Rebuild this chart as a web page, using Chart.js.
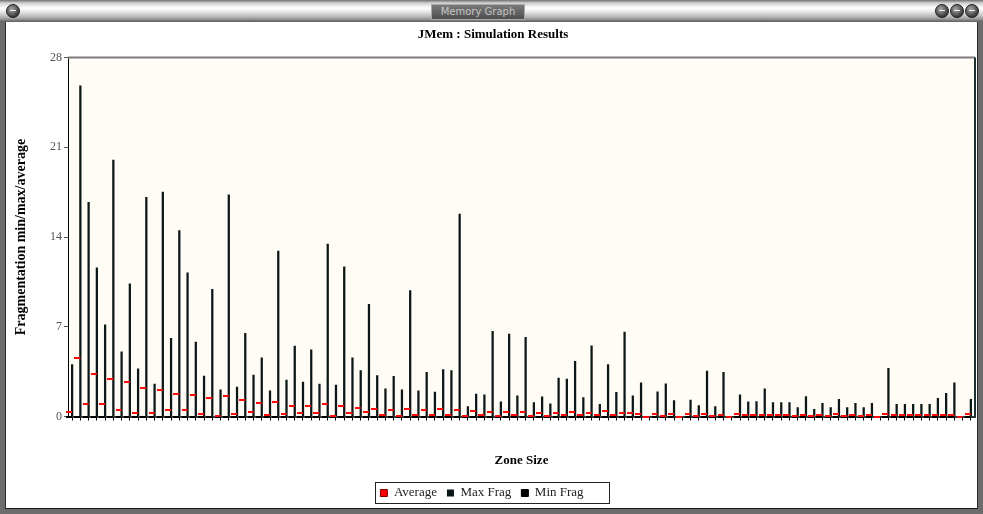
<!DOCTYPE html>
<html>
<head>
<meta charset="utf-8">
<script src="https://cdn.jsdelivr.net/npm/chart.js@4.4.1/dist/chart.umd.min.js"></script>
<style>
  body { margin: 0; width: 983px; height: 514px; overflow: hidden; position: relative; background: #6c6c6c; }
  #titlebar { position: absolute; left: 0; top: 0; width: 983px; height: 22px;
    background: linear-gradient(to bottom, #707070 0, #cfcfcf 3px, #ffffff 8px, #e6e6e6 12px, #a9a9a9 18px, #5e5e5e 22px); }
  #caption { position: absolute; left: 431px; top: 4px; width: 92px; height: 14px;
    background: linear-gradient(to bottom, #7a7a7a, #4e4e4e); border: 1px solid #a8a8a8;
    color: #c4c4c4; font: 10px "DejaVu Sans", sans-serif; line-height: 14px; text-align: center; }
  .btn { position: absolute; top: 4px; width: 12px; height: 12px; border-radius: 50%;
    background: radial-gradient(circle at 40% 35%, #a8a8a8, #343434 75%); border: 1px solid #1e1e1e; }
  .btn i { position: absolute; left: 3px; top: 5px; width: 6px; height: 1px; background: #f2f2f2; }
  #content { position: absolute; left: 5px; top: 22px; width: 971px; height: 486px; background: #fff;
    border-left: 1px solid #2a2a2a; border-right: 1px solid #2a2a2a; border-bottom: 1px solid #1a1a1a; }
  #memChart { position: absolute; left: 7px; top: 22px; }
</style>
</head>
<body>
<div id="titlebar">
  <div class="btn" style="left:6px"><i></i></div>
  <div id="caption">Memory Graph</div>
  <div class="btn" style="left:935px"><i></i></div>
  <div class="btn" style="left:950px"><i></i></div>
  <div class="btn" style="left:965px"><i></i></div>
</div>
<div id="content"></div>
<canvas id="memChart" width="973" height="490"></canvas>
<script>
// fragmentation per zone
const maxFrag = [
  4.06, 25.8, 16.7, 11.6, 7.16, 20.0, 5.05, 10.36, 3.72, 17.1,
  2.53, 17.5, 6.09, 14.5, 11.2, 5.8, 3.15, 9.92, 2.08, 17.3,
  2.29, 6.48, 3.23, 4.58, 2.0, 12.9, 2.84, 5.49, 2.68, 5.21,
  2.53, 13.46, 2.45, 11.67, 4.58, 3.59, 8.75, 3.2, 2.16, 3.13,
  2.08, 9.82, 2.0, 3.44, 1.9, 3.67, 3.59, 15.8, 0.78, 1.74,
  1.69, 6.64, 1.15, 6.43, 1.61, 6.17, 1.09, 1.54, 0.99, 3.0,
  2.92, 4.3, 1.48, 5.52, 0.94, 4.06, 1.88, 6.59, 1.61, 2.63,
  0, 1.93, 2.55, 1.25, 0, 1.28, 0.86, 3.54, 0.78, 3.44,
  0, 1.69, 1.15, 1.17, 2.16, 1.09, 1.09, 1.09, 0.7, 1.56,
  0.55, 1.02, 0.7, 1.33, 0.7, 1.02, 0.7, 1.02, 0, 3.75,
  0.94, 0.94, 0.94, 0.94, 0.94, 1.41, 1.8, 2.63, 0, 1.33
];
const avgFrag = [
  0.36, 4.56, 0.96, 3.33, 0.96, 2.94, 0.52, 2.66, 0.29, 2.24,
  0.29, 2.03, 0.47, 1.74, 0.47, 1.64, 0.21, 1.43, 0.05, 1.59,
  0.21, 1.28, 0.36, 1.07, 0.13, 1.15, 0.21, 0.83, 0.29, 0.83,
  0.29, 0.99, 0.05, 0.83, 0.29, 0.68, 0.36, 0.6, 0.13, 0.52,
  0.05, 0.6, 0.13, 0.52, 0.13, 0.6, 0.13, 0.52, 0.05, 0.44,
  0.13, 0.36, 0.05, 0.36, 0.13, 0.36, 0.03, 0.29, 0.05, 0.29,
  0.13, 0.34, 0.13, 0.29, 0.13, 0.44, 0.13, 0.29, 0.29, 0.21,
  0, 0.21, 0.05, 0.21, 0, 0.21, 0.05, 0.21, 0.05, 0.13,
  0, 0.21, 0.1, 0.1, 0.13, 0.1, 0.13, 0.1, 0.05, 0.13,
  0.05, 0.1, 0.05, 0.16, 0.05, 0.1, 0.05, 0.1, 0, 0.18,
  0.1, 0.1, 0.1, 0.1, 0.1, 0.13, 0.1, 0.1, 0, 0.18
];
const minFrag = [
  0, 0, 0, 0, 0, 0, 0, 0, 0, 0,
  0, 0, 0, 0, 0, 0, 0, 0, 0, 0,
  0, 0, 0, 0, 0, 0, 0, 0, 0, 0,
  0, 0, 0, 0, 0, 0, 0, 0, 0, 0,
  0, 0, 0, 0, 0, 0, 0, 0, 0, 0,
  0, 0, 0, 0, 0, 0, 0, 0, 0, 0,
  0, 0, 0, 0, 0, 0, 0, 0, 0, 0,
  0, 0, 0, 0, 0, 0, 0, 0, 0, 0,
  0, 0, 0, 0, 0, 0, 0, 0, 0, 0,
  0, 0, 0, 0, 0, 0, 0, 0, 0, 0,
  0, 0, 0, 0, 0, 0, 0, 0, 0, 0
];
const zoneSizes = maxFrag.map((_, i) => String(i + 1));
const yTickValues = [0, 7, 14, 21, 28];

const serif = '"Liberation Serif", "Times New Roman", serif';

// short dash sitting just left of the category centre
function dash(color) {
  const c = document.createElement('canvas');
  c.width = 12;
  c.height = 2;
  const g = c.getContext('2d');
  g.fillStyle = color;
  g.fillRect(0, 0, 6, 2);
  return c;
}

const plotFrame = {
  id: 'plotFrame',
  beforeDraw(chart) {
    const { ctx, chartArea: a } = chart;
    ctx.save();
    ctx.fillStyle = '#fffcf5';
    ctx.fillRect(a.left, a.top, a.right - a.left, a.bottom - a.top);
    ctx.restore();
  },
  afterLayout(chart) {
    // legend items sit a little left of centre in the original
    chart.legend.right -= 22;
  },
  afterDraw(chart) {
    const { ctx, chartArea: a, legend } = chart;
    ctx.save();
    ctx.strokeStyle = '#7c7c7c';
    ctx.lineWidth = 2;
    ctx.beginPath();
    ctx.moveTo(a.left, a.top);
    ctx.lineTo(a.right, a.top);
    ctx.stroke();
    ctx.strokeStyle = '#1f3030';
    ctx.beginPath();
    ctx.moveTo(a.right, a.top);
    ctx.lineTo(a.right, a.bottom);
    ctx.stroke();

    const pad = legend.options.labels.padding;
    const itemsLeft = (legend.left + pad + legend.right - legend.lineWidths[0]) / 2;
    const itemsWidth = legend.lineWidths[0] - pad;
    ctx.strokeStyle = '#222';
    ctx.lineWidth = 1;
    ctx.strokeRect(Math.round(itemsLeft - 5) + 0.5, Math.round(legend.top + 5) + 0.5, Math.round(itemsWidth + 31), 21);
    ctx.restore();
  }
};

const ctx = document.getElementById('memChart').getContext('2d');
new Chart(ctx, {
  type: 'bar',
  data: {
    labels: zoneSizes,
    datasets: [
      {
        type: 'line',
        label: 'Average',
        data: avgFrag,
        showLine: false,
        pointStyle: dash('#ff0a0a'),
        pointRadius: 3,
        backgroundColor: '#ff0000',
        borderColor: '#7a0000',
        borderWidth: 1,
        clip: false,
        order: 0
      },
      {
        type: 'bar',
        label: 'Max Frag',
        data: maxFrag.map((v, i) => [minFrag[i], v]),
        backgroundColor: '#0b1616',
        borderColor: '#000',
        borderWidth: 0,
        barThickness: 1.6,
        order: 1
      },
      {
        type: 'line',
        label: 'Min Frag',
        data: minFrag,
        showLine: false,
        pointStyle: dash('#000000'),
        pointRadius: 3,
        backgroundColor: '#000',
        borderColor: '#000',
        borderWidth: 1,
        clip: false,
        order: 2
      }
    ]
  },
  options: {
    responsive: false,
    animation: false,
    devicePixelRatio: 1,
    events: [],
    layout: { padding: { left: 0, right: 1, top: 0, bottom: 2.5 } },
    scales: {
      x: {
        offset: true,
        grid: { offset: false, drawOnChartArea: false, drawTicks: true, tickLength: 4, color: '#000' },
        border: { display: true, color: '#2b3b3b', width: 2 },
        ticks: { display: false, autoSkip: false },
        title: {
          display: true, text: 'Zone Size', color: '#000',
          font: { family: serif, size: 13, weight: 'bold' },
          padding: { top: 0, bottom: 8 }
        },
        afterFit: s => { s.height = 60; }
      },
      y: {
        min: 0,
        max: 28,
        afterBuildTicks: s => { s.ticks = yTickValues.map(v => ({ value: v })); },
        grid: { drawOnChartArea: false, drawTicks: true, tickLength: 4, color: '#555' },
        border: { display: true, color: '#000', width: 1 },
        ticks: { color: '#555', padding: 2, font: { family: serif, size: 12 } },
        title: {
          display: true, text: 'Fragmentation min/max/average', color: '#000',
          font: { family: serif, size: 14, weight: 'bold' },
          padding: { top: 6, bottom: 0 }
        },
        afterFit: s => { s.width = 61; }
      }
    },
    plugins: {
      title: {
        display: true,
        text: 'JMem : Simulation Results',
        color: '#000',
        font: { family: serif, size: 13, weight: 'bold' },
        padding: { top: 5, bottom: 15 }
      },
      legend: {
        position: 'bottom',
        labels: {
          boxWidth: 7,
          boxHeight: 7,
          padding: 10,
          color: '#222',
          font: { family: serif, size: 13 }
        }
      },
      tooltip: { enabled: false }
    }
  },
  plugins: [plotFrame]
});
</script>
</body>
</html>
